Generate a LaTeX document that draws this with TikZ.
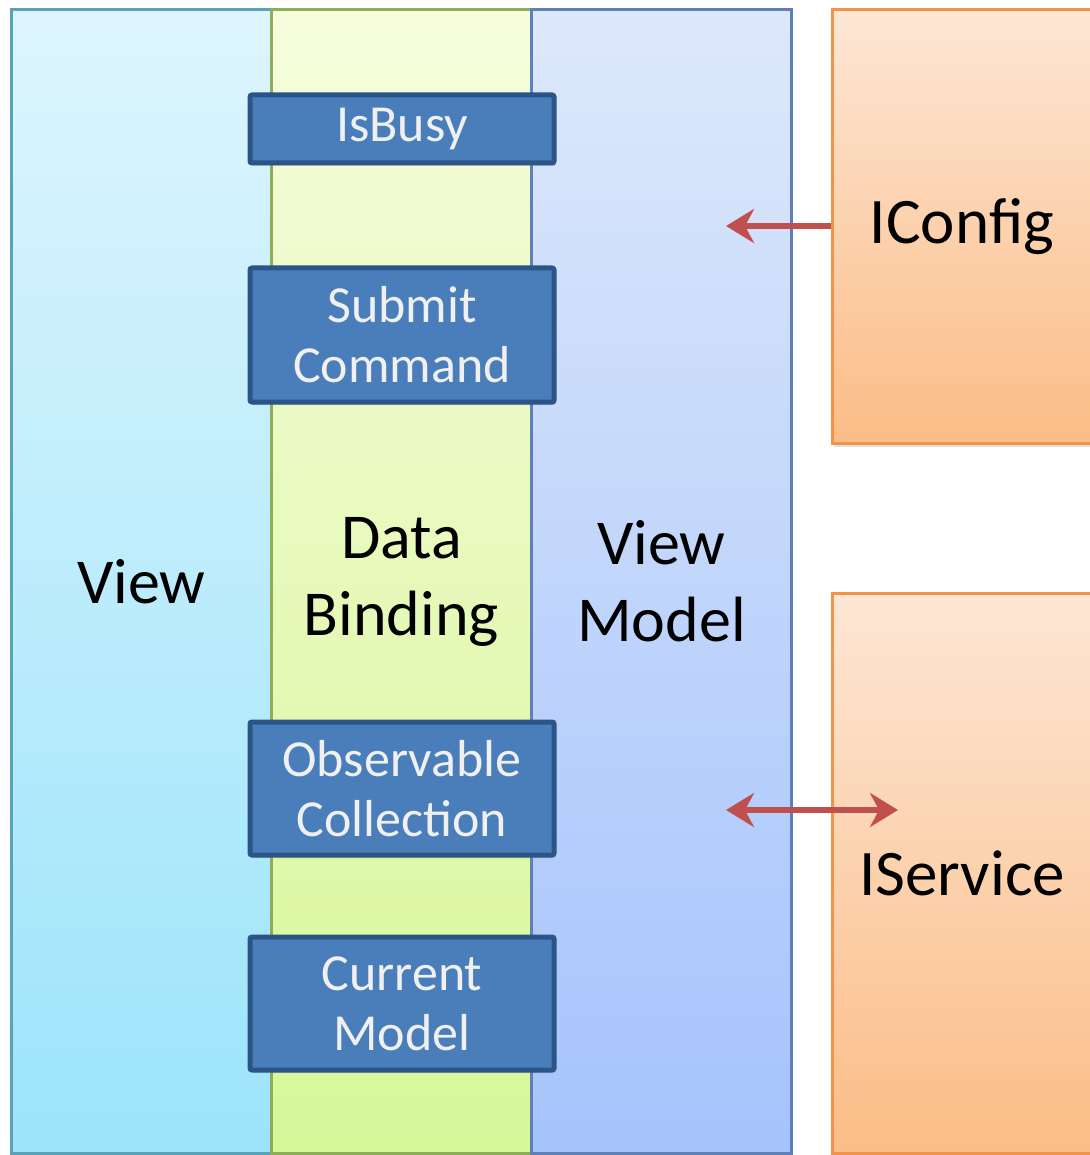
\documentclass[tikz,border=0pt]{standalone}
\usepackage{fontspec}
\setmainfont{Carlito}
\usepackage{tikz}
\usetikzlibrary{arrows.meta, shadows}
\usepackage{xcolor}

\definecolor{viewtop}{HTML}{DDF5FD}
\definecolor{viewbot}{HTML}{9CE4FB}
\definecolor{viewline}{HTML}{5AA2B8}
\definecolor{bindtop}{HTML}{F6FCDC}
\definecolor{bindbot}{HTML}{D7F799}
\definecolor{bindline}{HTML}{8DAE55}
\definecolor{vmtop}{HTML}{DDE8FB}
\definecolor{vmbot}{HTML}{A5C3FC}
\definecolor{vmline}{HTML}{5F7FB9}
\definecolor{orgtop}{HTML}{FDE6D5}
\definecolor{orgbot}{HTML}{FBBD86}
\definecolor{orgline}{HTML}{EF9448}
\definecolor{propfill}{HTML}{4A7EBB}
\definecolor{propline}{HTML}{2C5587}
\definecolor{arrowred}{HTML}{C0504D}

\tikzset{
    column/.style={draw, line width=3pt, minimum width=260pt, minimum height=1143pt,
        inner sep=0pt, align=center, font=\fontsize{64}{77}\selectfont},
    service/.style={draw=orgline, line width=3pt, top color=orgtop, bottom color=orgbot,
        minimum width=260pt, inner sep=0pt, font=\fontsize{65}{72}\selectfont,
        drop shadow={opacity=0.25, shadow xshift=2pt, shadow yshift=-4pt}},
    prop/.style={draw=propline, line width=5pt, fill=propfill, rounded corners=2pt,
        minimum width=304pt, inner sep=0pt, align=center, text=white!94!black,
        font=\fontsize{52}{60}\selectfont,
        drop shadow={opacity=0.25, shadow xshift=2pt, shadow yshift=-3pt}},
    redhead/.tip={Stealth[length=28pt,width=34pt,inset=9pt]},
    link/.style={draw=arrowred, line width=6pt, redhead-}
}

\begin{document}
\begin{tikzpicture}[x=1pt, y=-1pt]
    \useasboundingbox[fill=white] (0,0) rectangle (1089,1155);

    % the three layers
    \node[column, draw=viewline, top color=viewtop, bottom color=viewbot]
        (view) at (141.5,581.5) {View};
    \node[column, draw=bindline, top color=bindtop, bottom color=bindbot]
        (binding) at (401.5,581.5) {Data\\Binding};
    \node[column, draw=vmline, top color=vmtop, bottom color=vmbot]
        (viewmodel) at (661.5,581.5) {View\\Model};

    % outside services
    \node[service, minimum height=433pt] (config) at (962,226.5) {IConfig};
    \node[service, minimum height=560pt] (srv) at (962,873) {IService};

    % bound properties
    \node[prop, minimum height=68pt]  (busy)    at (402,129)  {IsBusy};
    \node[prop, minimum height=134pt] (submit)  at (402,335)  {Submit\\Command};
    \node[prop, minimum height=133pt] (observe) at (402,788.5) {Observable\\Collection};
    \node[prop, minimum height=133pt] (current) at (402,1003.5) {Current\\Model};

    % connectors
    \coordinate (cfgend) at (726,226);
    \coordinate (srvleft) at (726,810);
    \coordinate (srvright) at (898,810);
    \draw[link] (cfgend) -- (config.west |- cfgend);
    \draw[link, redhead-redhead] (srvleft) -- (srvright);
\end{tikzpicture}
\end{document}
